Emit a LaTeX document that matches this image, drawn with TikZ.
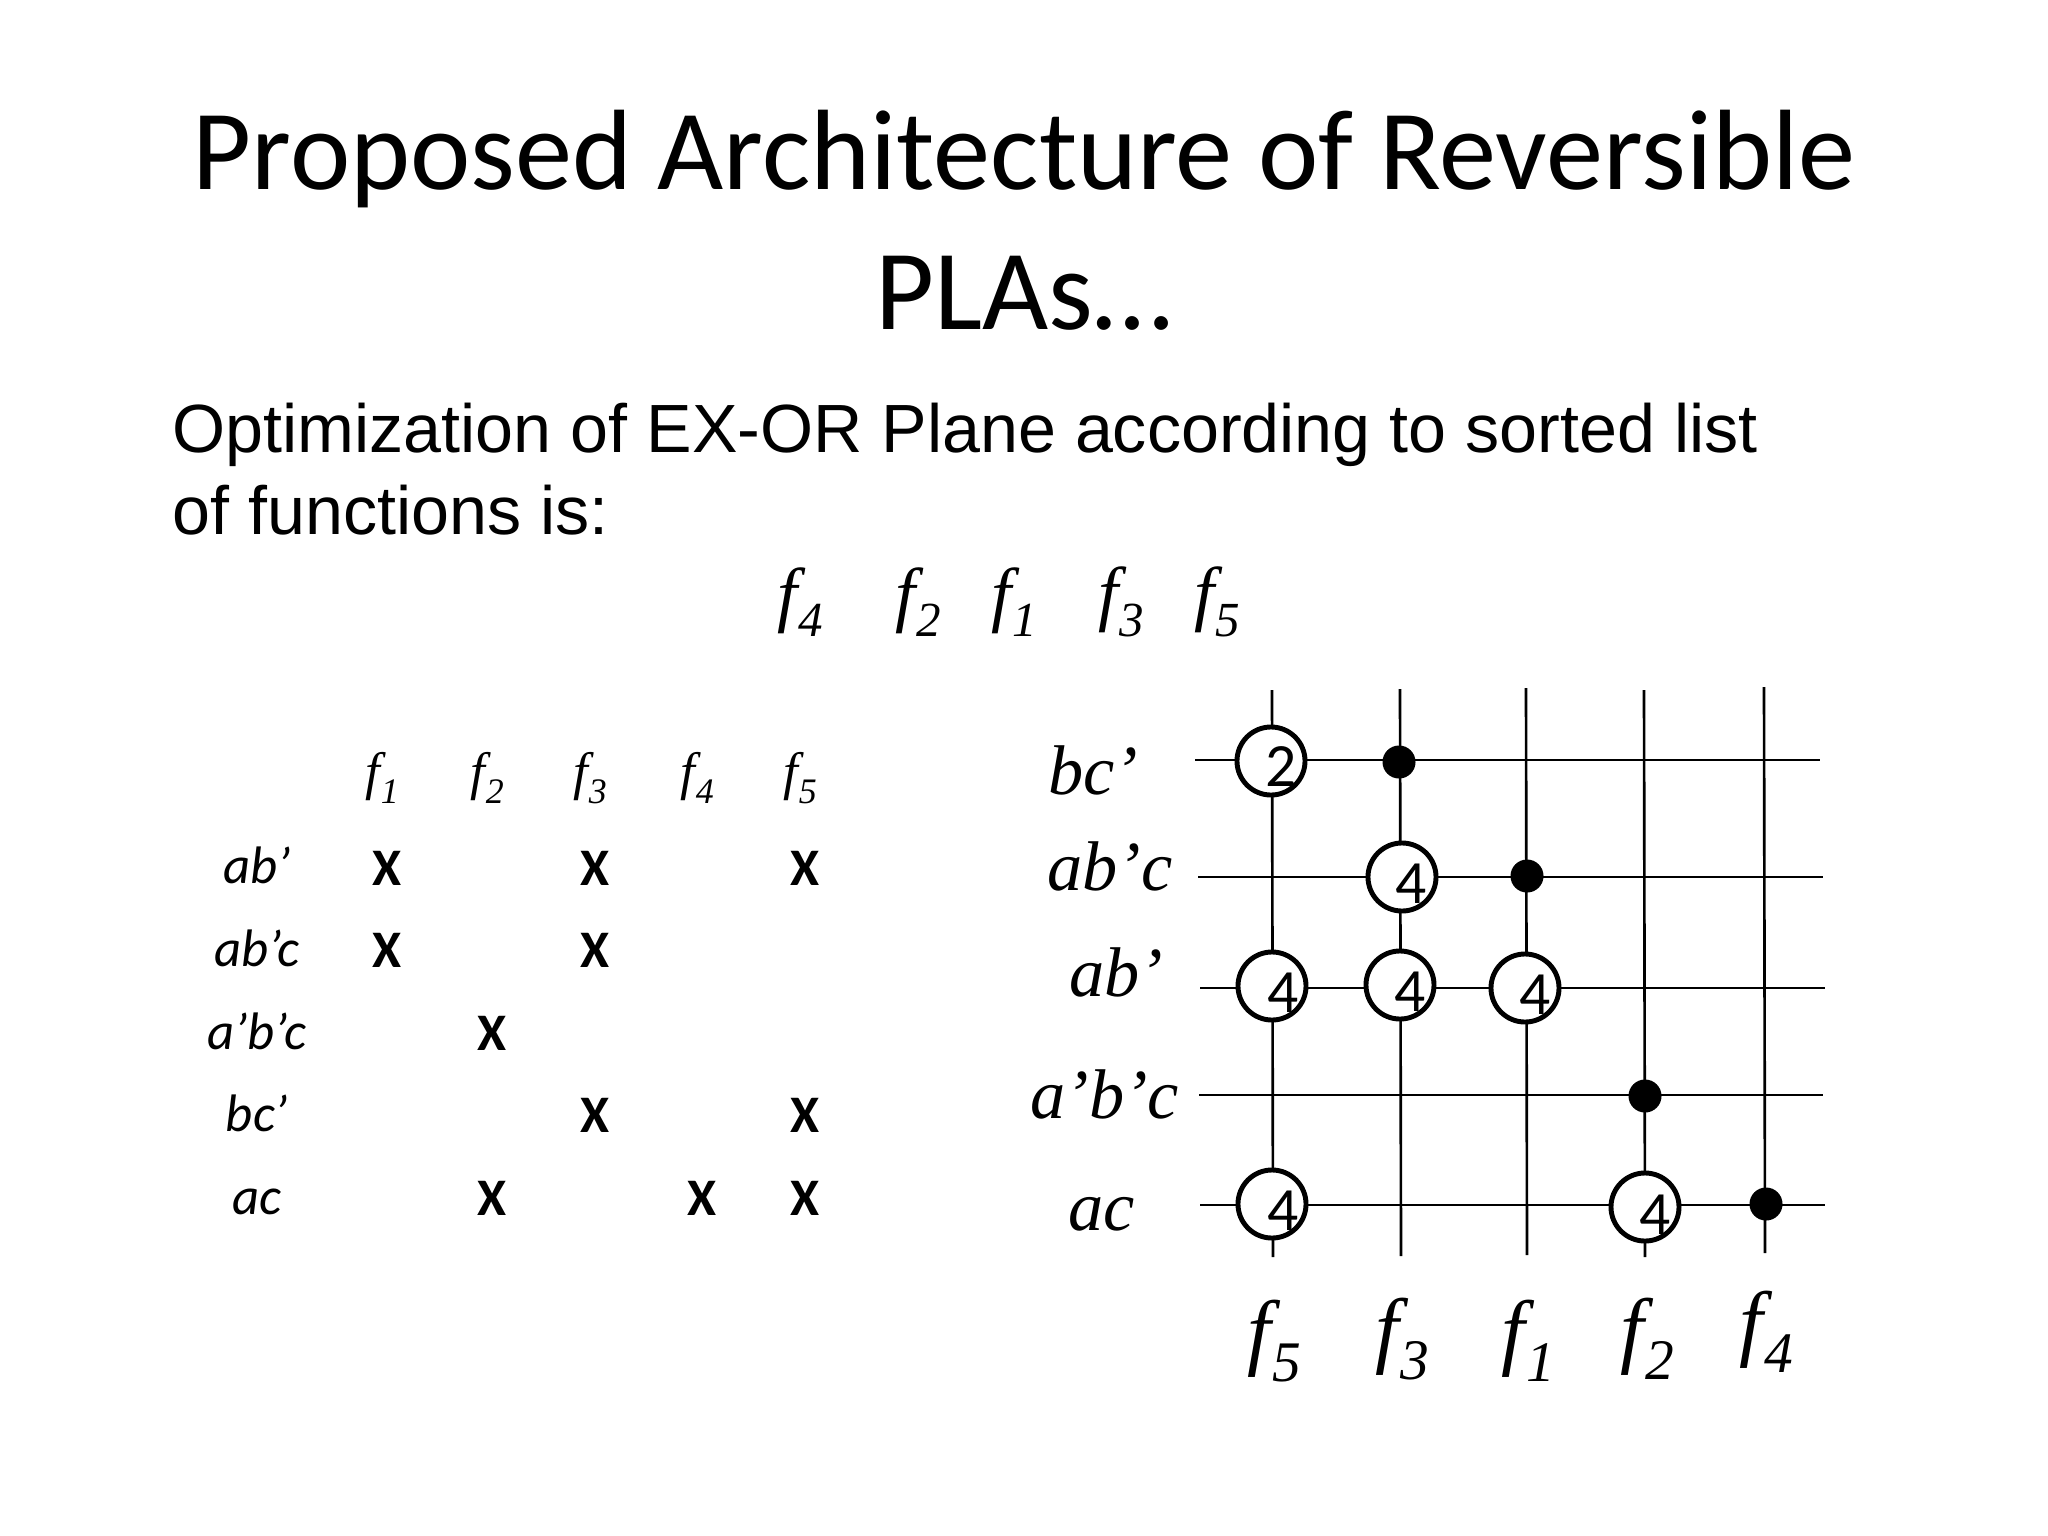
\documentclass[tikz,border=0pt]{standalone}
\usepackage{fontspec}
\usetikzlibrary{calc}
\newfontfamily\titlefont{Carlito}
\newfontfamily\bodyfont{Liberation Sans}
\newfontfamily\timesfont{Liberation Serif}
\newcommand{\fsub}[1]{\textit{f\kern0.02em\raisebox{-0.26em}{\scalebox{0.68}{#1}}}}
\tikzset{
	wire/.style={line width=0.75pt, color=black},
	xorgate/.style={circle, draw=black, fill=white, line width=1.4pt, minimum size=0.68cm, inner sep=0pt},
	dotgate/.style={circle, fill=black, minimum size=0.33cm, inner sep=0pt},
	digit/.style={font=\titlefont\fontsize{17.5}{20}\selectfont, inner sep=0pt},
	cross/.style={font=\titlefont\bfseries\fontsize{15}{18}\selectfont, inner sep=0pt},
	termleft/.style={font=\titlefont\itshape\fontsize{15}{18}\selectfont, inner sep=0pt, text height=0.64em, text depth=0pt},
	termright/.style={font=\timesfont\itshape\fontsize{20}{24}\selectfont, inner sep=0pt},
	funcsmall/.style={font=\timesfont\fontsize{15}{18}\selectfont, inner sep=0pt},
	functop/.style={font=\timesfont\fontsize{20.5}{24}\selectfont, inner sep=0pt},
	funcbig/.style={font=\timesfont\fontsize{24}{28}\selectfont, inner sep=0pt}
}

\begin{document}
\begin{tikzpicture}[x=0.01cm, y=-0.01cm]
	%%%%% PAGE %%%%%
	\useasboundingbox (0, 0) rectangle (2048, 1536);
	\fill[white] (0, 0) rectangle (2048, 1536);

	\node[align=center, inner sep=0pt, font=\titlefont\fontsize{32.5}{39.7}\selectfont] (title) at (1024, 220) {Proposed Architecture of Reversible\\PLAs\ldots};
	\node[align=left, anchor=west, inner sep=0pt, font=\bodyfont\fontsize{19.4}{23.3}\selectfont] (intro) at (172, 469) {Optimization of EX-OR Plane according to sorted list\\of functions is:};

	\node[functop] (top4) at (800, 602) {\fsub{4}};
	\node[functop] (top2) at (918, 602) {\fsub{2}};
	\node[functop] (top1) at (1014, 602) {\fsub{1}};
	\node[functop] (top3) at (1121, 602) {\fsub{3}};
	\node[functop] (top5) at (1217, 602) {\fsub{5}};

	%%%%% TABLE %%%%%
	\node[funcsmall] (head1) at (382, 778) {\fsub{1}};
	\node[funcsmall] (head2) at (487, 778) {\fsub{2}};
	\node[funcsmall] (head3) at (590, 778) {\fsub{3}};
	\node[funcsmall] (head4) at (697, 778) {\fsub{4}};
	\node[funcsmall] (head5) at (800, 778) {\fsub{5}};

	\node[termleft] (tab1) at (257, 872) {ab’};
	\node[termleft] (tab2) at (257, 955) {ab’c};
	\node[termleft] (tab3) at (257, 1038) {a’b’c};
	\node[termleft] (tab4) at (257, 1120) {bc’};
	\node[termleft] (tab5) at (257, 1203) {ac};

	\node[cross] (x11) at (387, 868) {X};
	\node[cross] (x13) at (595, 868) {X};
	\node[cross] (x15) at (805, 868) {X};
	\node[cross] (x21) at (387, 950) {X};
	\node[cross] (x23) at (595, 950) {X};
	\node[cross] (x32) at (492, 1033) {X};
	\node[cross] (x43) at (595, 1115) {X};
	\node[cross] (x45) at (805, 1115) {X};
	\node[cross] (x52) at (492, 1198) {X};
	\node[cross] (x54) at (702, 1198) {X};
	\node[cross] (x55) at (805, 1198) {X};

	%%%%% PLANE %%%%%
	\coordinate (rowAl) at (1195, 760);
	\coordinate (rowAr) at (1820, 760);
	\coordinate (rowBl) at (1198, 877);
	\coordinate (rowBr) at (1823, 877);
	\coordinate (rowCl) at (1200, 988);
	\coordinate (rowCr) at (1825, 988);
	\coordinate (rowDl) at (1199, 1095);
	\coordinate (rowDr) at (1823, 1095);
	\coordinate (rowEl) at (1200, 1205);
	\coordinate (rowEr) at (1825, 1205);

	\coordinate (colAt) at (1272, 690);
	\coordinate (colAb) at (1273, 1257);
	\coordinate (colBt) at (1400, 689);
	\coordinate (colBb) at (1401, 1256);
	\coordinate (colCt) at (1526, 688);
	\coordinate (colCb) at (1527, 1255);
	\coordinate (colDt) at (1644, 690);
	\coordinate (colDb) at (1645, 1257);
	\coordinate (colEt) at (1764, 687);
	\coordinate (colEb) at (1765, 1253);

	\draw[wire] (rowAl) -- (rowAr);
	\draw[wire] (rowBl) -- (rowBr);
	\draw[wire] (rowCl) -- (rowCr);
	\draw[wire] (rowDl) -- (rowDr);
	\draw[wire] (rowEl) -- (rowEr);

	\draw[wire] (colAt) -- (colAb);
	\draw[wire] (colBt) -- (colBb);
	\draw[wire] (colCt) -- (colCb);
	\draw[wire] (colDt) -- (colDb);
	\draw[wire] (colEt) -- (colEb);

	\node[xorgate] (gateAA) at (1271, 761) {};
	\node[xorgate] (gateBB) at (1402, 877) {};
	\node[xorgate] (gateCA) at (1272, 986) {};
	\node[xorgate] (gateCB) at (1400, 985) {};
	\node[xorgate] (gateCC) at (1525, 988) {};
	\node[xorgate] (gateEA) at (1272, 1204) {};
	\node[xorgate] (gateED) at (1645, 1207) {};

	\node[digit] (numAA) at (1281, 767) {2};
	\node[digit] (numBB) at (1411, 884) {4};
	\node[digit] (numCA) at (1283, 993) {4};
	\node[digit] (numCB) at (1410, 992) {4};
	\node[digit] (numCC) at (1535, 995) {4};
	\node[digit] (numEA) at (1283, 1211) {4};
	\node[digit] (numED) at (1655, 1215) {4};

	\node[dotgate] (dotAB) at (1399, 762) {};
	\node[dotgate] (dotBC) at (1527, 876) {};
	\node[dotgate] (dotDD) at (1645, 1096) {};
	\node[dotgate] (dotEE) at (1766, 1204) {};

	\node[termright] (termA) at (1093, 770) {bc’};
	\node[termright] (termB) at (1110, 866) {ab’c};
	\node[termright] (termC) at (1116, 972) {ab’};
	\node[termright] (termD) at (1105, 1094) {a’b’c};
	\node[termright] (termE) at (1102, 1214) {ac};

	\node[funcbig] (sideA) at (1274, 1341) {\fsub{5}};
	\node[funcbig] (sideB) at (1402, 1339) {\fsub{3}};
	\node[funcbig] (sideC) at (1528, 1341) {\fsub{1}};
	\node[funcbig] (sideD) at (1647, 1339) {\fsub{2}};
	\node[funcbig] (sideE) at (1766, 1332) {\fsub{4}};
\end{tikzpicture}
\end{document}
